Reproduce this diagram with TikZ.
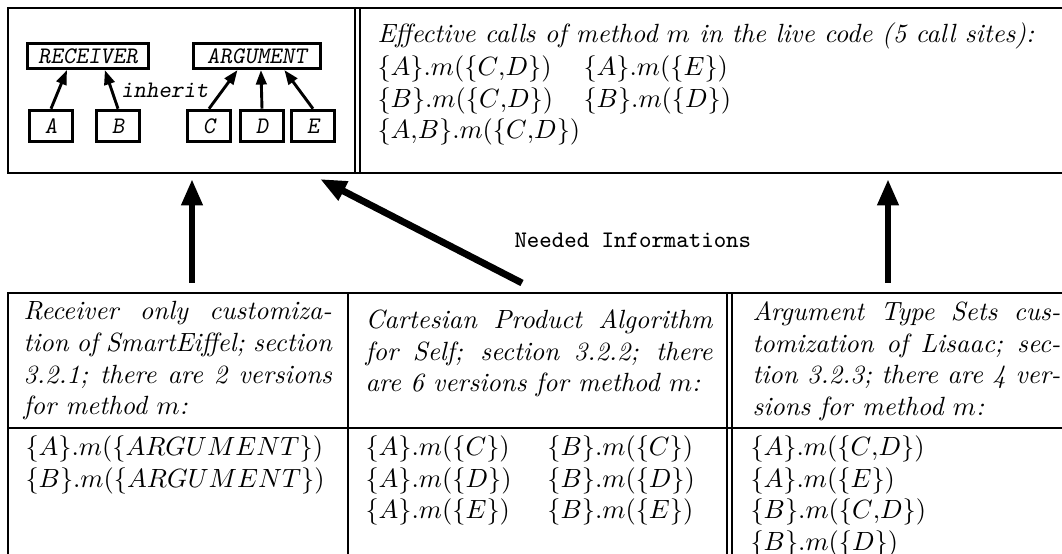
\documentclass[tikz,border=0pt]{standalone}
\usepackage{tikz}
\usetikzlibrary{arrows.meta,positioning}

\begin{document}
\begin{tikzpicture}[
        x=0.013333cm, y=-0.013333cm,
        rule/.style={line width=0.8pt},
        clsbox/.style={rectangle, draw, line width=1.1pt, font=\small\ttfamily\slshape, inner sep=0pt, minimum width=16.5pt, minimum height=12pt},
        rootbox/.style={clsbox, minimum width=46pt, minimum height=9.6pt},
        inherits/.style={line width=1.1pt, -{Triangle[length=5.5pt,width=4pt]}},
        needed/.style={line width=2.6pt, -{Triangle[length=10pt,width=7.6pt]}},
        cell/.style={anchor=north west, inner sep=0pt, align=justify, font=\itshape},
        calls/.style={anchor=north west, inner sep=0pt}
    ]
    \useasboundingbox (0,0) rectangle (1062,554);

    % upper table
    \draw[rule] (1070,8) -- (8,8) -- (8,173) -- (1070,173);
    \draw[rule] (355,8) -- (355,173) (360,8) -- (360,173);

    % lower table
    \draw[rule] (1070,293) -- (8,293) -- (8,560);
    \draw[rule] (8,428) -- (1070,428);
    \draw[rule] (348,293) -- (348,560);
    \draw[rule] (727,293) -- (727,560) (732,293) -- (732,560);

    % class hierarchy
    \node[rootbox] (receiver) at (88,56) {RECEIVER};
    \node[rootbox, minimum width=48pt] (argument) at (257,56) {ARGUMENT};
    \node[clsbox] (a) at (51,126) {A};
    \node[clsbox] (b) at (118,126) {B};
    \node[clsbox] (c) at (209,126) {C};
    \node[clsbox] (d) at (262,126) {D};
    \node[clsbox] (e) at (313,126) {E};

    \draw[inherits] (a.north) -- ([xshift=-8pt]receiver.south);
    \draw[inherits] (b.north) -- node[pos=0.47, anchor=west, inner xsep=3pt, font=\small\ttfamily\slshape] (inherit) {inherit} ([xshift=6.4pt]receiver.south);
    \draw[inherits] (c.north) -- ([xshift=-7.4pt]argument.south);
    \draw[inherits] (d.north) -- ([xshift=1.5pt]argument.south);
    \draw[inherits] (e.north) -- ([xshift=10.4pt]argument.south);

    % effective calls
    \node[anchor=base west, inner sep=0pt, font=\itshape] (live) at (377,43) {Effective calls of method $m$ in the live code (5 call sites):};
    \node[calls] (liveA) at (377,53) {\begin{tabular}{@{}l@{}}
        $\{A\}.m(\{C{,}D\})$\\
        $\{B\}.m(\{C{,}D\})$\\
        $\{A{,}B\}.m(\{C{,}D\})$
    \end{tabular}};
    \node[calls] (liveB) at (583,53) {\begin{tabular}{@{}l@{}}
        $\{A\}.m(\{E\})$\\
        $\{B\}.m(\{D\})$
    \end{tabular}};

    % customizations
    \node[cell, text width=117pt] (smarteiffel) at (23,301) {Receiver only customiza-\linebreak tion of SmartEiffel; section\linebreak 3.2.1; there are 2 versions\linebreak for method $m$:};
    \node[cell, text width=131.6pt] (self) at (365,309) {Cartesian Product Algorithm\linebreak for Self; section 3.2.2; there\linebreak are 6 versions for method $m$:};
    \node[cell, text width=116.8pt] (lisaac) at (752,301) {Argument Type Sets cus-\linebreak tomization of Lisaac; sec-\linebreak tion 3.2.3; there are 4 ver-\linebreak sions for method $m$:};

    \node[calls] (recvcalls) at (25,433) {\begin{tabular}{@{}l@{}}
        $\{A\}.m(\{ARGUMENT\})$\\
        $\{B\}.m(\{ARGUMENT\})$
    \end{tabular}};
    \node[calls] (selfcalls) at (365,433) {\begin{tabular}{@{}p{69pt}@{}l@{}}
        $\{A\}.m(\{C\})$ & $\{B\}.m(\{C\})$\\
        $\{A\}.m(\{D\})$ & $\{B\}.m(\{D\})$\\
        $\{A\}.m(\{E\})$ & $\{B\}.m(\{E\})$
    \end{tabular}};
    \node[calls] (lisaaccalls) at (750,433) {\begin{tabular}{@{}l@{}}
        $\{A\}.m(\{C{,}D\})$\\
        $\{A\}.m(\{E\})$\\
        $\{B\}.m(\{C{,}D\})$\\
        $\{B\}.m(\{D\})$
    \end{tabular}};

    % needed informations
    \coordinate (recvTail) at (192,283);
    \coordinate (recvTip) at (192,179);
    \coordinate (selfTail) at (522,283);
    \coordinate (selfTip) at (320,179);
    \coordinate (lisaacTail) at (888,283);
    \coordinate (lisaacTip) at (888,179);
    \draw[needed] (recvTail) -- (recvTip);
    \draw[needed] (selfTail) -- (selfTip);
    \draw[needed] (lisaacTail) -- (lisaacTip);
    \node[anchor=west, inner sep=0pt, font=\small\ttfamily] (needinfo) at (514,240) {Needed Informations};

\end{tikzpicture}
\end{document}
